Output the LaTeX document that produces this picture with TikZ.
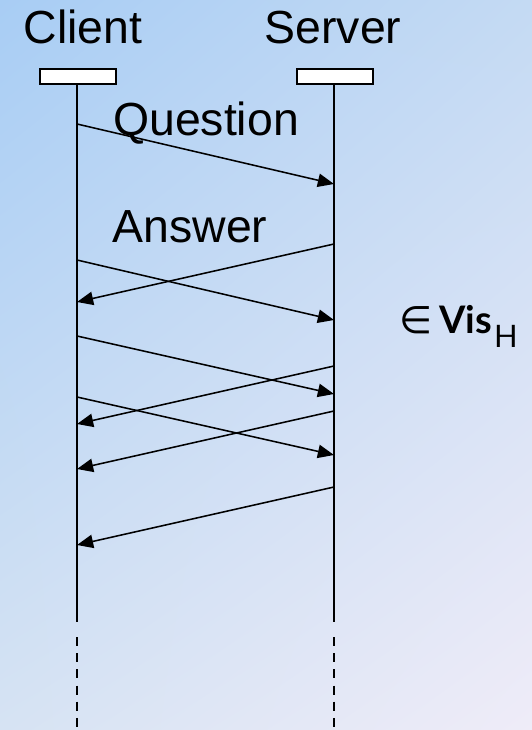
\documentclass[tikz,border=0pt]{standalone}
\usepackage{fontspec}
\setmainfont{Liberation Sans}
\newfontfamily\visfont{Lato}
\newfontfamily\symfont{DejaVu Sans}
\usetikzlibrary{arrows.meta,positioning,shadings}
\definecolor{bgtl}{RGB}{168,205,244}
\definecolor{bgtr}{RGB}{196,218,243}
\definecolor{bgbl}{RGB}{214,227,243}
\definecolor{bgbr}{RGB}{239,236,248}

\begin{document}
\begin{tikzpicture}[
  x=0.025cm, y=-0.025cm,
  lbl/.style={font=\fontsize{33}{39}\selectfont, inner sep=0pt, anchor=base},
  head/.style={draw, fill=white, line width=1.3pt, minimum width=1.9cm,
               minimum height=3.7mm, inner sep=0pt},
  life/.style={line width=1.3pt},
  msg/.style={line width=1.1pt, -{Triangle[length=11.5pt, width=9.5pt]}},
  >={Triangle[]}]

% background
\shade[upper left=bgtl, upper right=bgtr, lower left=bgbl, lower right=bgbr]
  (0,0) rectangle (532,730);
\useasboundingbox (0,0) rectangle (532,730);

% ---------------- the two parties ----------------
\node[lbl] (cname) at (83,43) {Client};
\node[lbl] (sname) at (333,43) {Server};
\node[head] (client) at (78,76.5) {};
\node[head] (server) at (335,76.5) {};

\coordinate (cend) at (77,622);
\coordinate (send) at (334,622);
\coordinate (cdash) at (77,637);
\coordinate (sdash) at (334,637);
\coordinate (cbot) at (77,730);
\coordinate (sbot) at (334,730);
\draw[life] (client.south -| cend) -- (cend);
\draw[life] (server.south -| send) -- (send);
\draw[life, dash pattern=on 6.5pt off 5pt] (cdash) -- (cbot);
\draw[life, dash pattern=on 6.5pt off 5pt] (sdash) -- (sbot);

% ---------------- messages ----------------
\coordinate (c1) at (77,124);  \coordinate (s1) at (334,184);
\coordinate (s2) at (334,244); \coordinate (c2) at (77,302);
\coordinate (c3) at (77,260);  \coordinate (s3) at (334,320);
\coordinate (c4) at (77,336);  \coordinate (s4) at (334,394);
\coordinate (s5) at (334,366); \coordinate (c5) at (77,424);
\coordinate (c6) at (77,397);  \coordinate (s6) at (334,455);
\coordinate (s7) at (334,411); \coordinate (c7) at (77,469);
\coordinate (s8) at (334,487); \coordinate (c8) at (77,545);
\foreach \a/\b in {c1/s1, s2/c2, c3/s3, c4/s4, s5/c5, c6/s6, s7/c7, s8/c8}{
  \draw[msg] (\a) -- (\b);}

\node[lbl] (question) at (206,135) {Question};
\node[lbl] (answer) at (190,242) {Answer};

% visible set
\node[inner sep=0pt, anchor=base west, font=\fontsize{27}{32}\visfont]
  (vis) at (399,333)
  {{\symfont ∈}\hspace{5pt}\textbf{Vis}\hspace{1.5pt}\raisebox{-10.5pt}{\fontsize{22}{26}\selectfont H}};
\end{tikzpicture}
\end{document}
